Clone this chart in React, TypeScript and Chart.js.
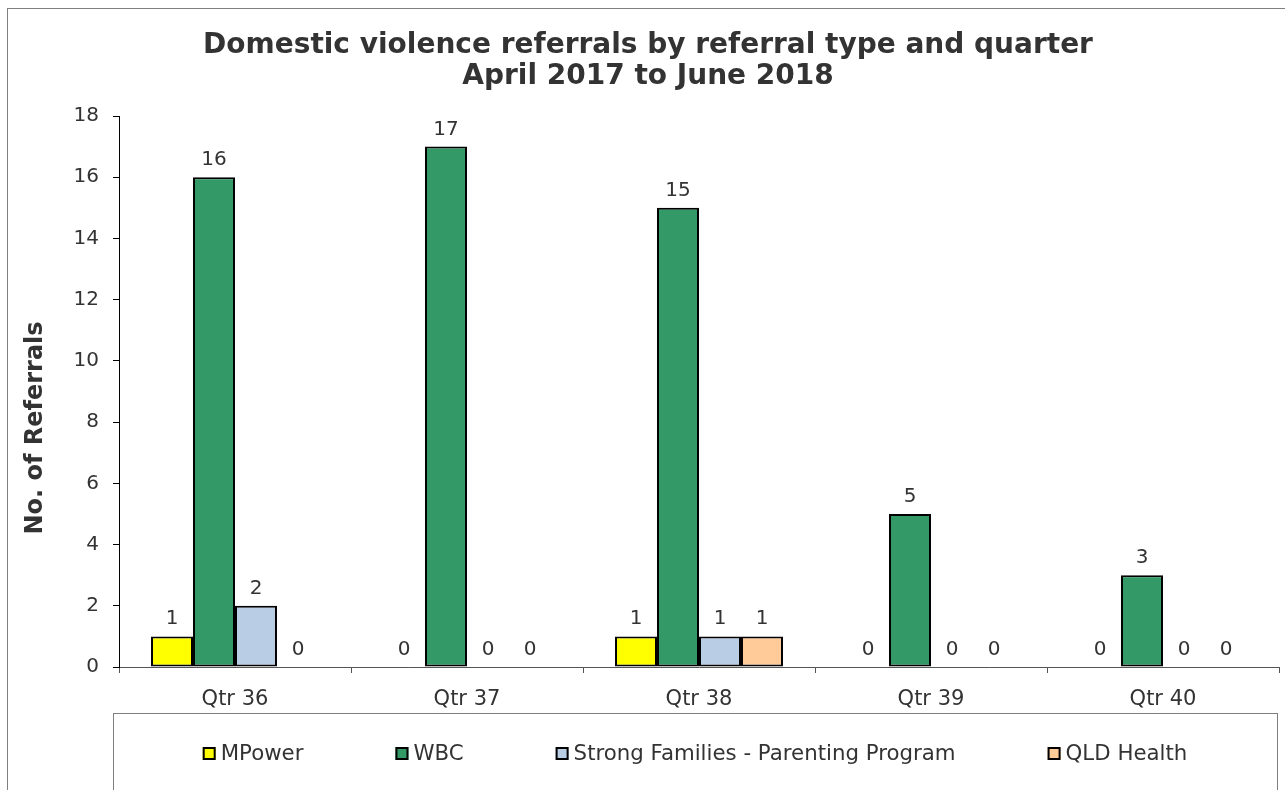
import React, { useEffect, useRef } from "react";
import { Chart, registerables } from "chart.js";

Chart.register(...registerables);

const categories = ["Qtr 36", "Qtr 37", "Qtr 38", "Qtr 39", "Qtr 40"];
const seriesNames = ["MPower", "WBC", "Strong Families - Parenting Program", "QLD Health"];
const mpower = [1, 0, 1, 0, 0];
const wbc = [16, 17, 15, 5, 3];
const strongFamilies = [2, 0, 1, 0, 0];
const qldHealth = [0, 0, 1, 0, 0];
const seriesColors = ["#FFFF00", "#339966", "#B9CDE5", "#FFCC99"];
const titleLines = ["Domestic violence referrals by referral type and quarter", "April 2017 to June 2018"];
const yAxisTitle = "No. of Referrals";
const yMin = 0;
const yMax = 18;
const yStep = 2;

const FONT = "'DejaVu Sans', Verdana, sans-serif";
const TEXT = "#333333";

const decorPlugin = {
  id: "decor",
  beforeDraw(chart: any) {
    const ctx = chart.ctx;
    ctx.save();
    ctx.fillStyle = "#ffffff";
    ctx.fillRect(0, 0, chart.width, chart.height);
    ctx.strokeStyle = "#7f7f7f";
    ctx.lineWidth = 1;
    ctx.strokeRect(7.5, 8.5, chart.width + 20, chart.height + 20);
    ctx.restore();
  },
  afterDraw(chart: any) {
    const ctx = chart.ctx;
    const area = chart.chartArea;
    ctx.save();
    ctx.fillStyle = TEXT;
    ctx.textAlign = "center";
    ctx.textBaseline = "alphabetic";
    ctx.font = `bold 28px ${FONT}`;
    ctx.fillText(titleLines[0], 648, 53);
    ctx.fillText(titleLines[1], 648, 84);

    ctx.save();
    ctx.translate(42, 428);
    ctx.rotate(-Math.PI / 2);
    ctx.font = `bold 24px ${FONT}`;
    ctx.textBaseline = "alphabetic";
    ctx.fillText(yAxisTitle, 0, 0);
    ctx.restore();

    ctx.font = `20px ${FONT}`;
    ctx.textAlign = "center";
    ctx.textBaseline = "alphabetic";
    chart.data.datasets.forEach((ds: any, i: number) => {
      const meta = chart.getDatasetMeta(i);
      meta.data.forEach((el: any, j: number) => {
        ctx.fillText(String(ds.data[j]), el.x, el.y - 12);
      });
    });

    const boxLeft = area.left - 6;
    const boxTop = 713;
    const boxRight = area.right - 2;
    ctx.strokeStyle = "#7f7f7f";
    ctx.lineWidth = 1;
    ctx.strokeRect(boxLeft + 0.5, boxTop + 0.5, boxRight - boxLeft, chart.height);

    ctx.font = `21.3px ${FONT}`;
    const marker = 13;
    const gapText = 5;
    const gapItem = 92;
    const widths = seriesNames.map((n) => marker + gapText + ctx.measureText(n).width);
    const total = widths.reduce((a, b) => a + b, 0) + gapItem * (seriesNames.length - 1);
    let x = (boxLeft + boxRight) / 2 - total / 2;
    const cy = 753;
    ctx.textAlign = "left";
    ctx.textBaseline = "middle";
    seriesNames.forEach((n, i) => {
      ctx.fillStyle = seriesColors[i];
      ctx.fillRect(x, cy - 6, marker, marker);
      ctx.strokeStyle = "#000";
      ctx.lineWidth = 2;
      ctx.strokeRect(x + 1, cy - 5, marker - 2, marker - 2);
      ctx.fillStyle = TEXT;
      ctx.fillText(n, x + marker + gapText, cy + 1);
      x += widths[i] + gapItem;
    });
    ctx.restore();
  },
};

export default function App() {
  const ref = useRef<HTMLCanvasElement | null>(null);
  useEffect(() => {
    if (!ref.current) return;
    const data = [mpower, wbc, strongFamilies, qldHealth];
    const chart = new Chart(ref.current, {
      type: "bar",
      data: {
        labels: categories,
        datasets: seriesNames.map((name, i) => ({
          label: name,
          data: data[i],
          backgroundColor: seriesColors[i],
          borderColor: "#000000",
          borderWidth: 2,
          borderSkipped: false,
          barPercentage: 1,
          categoryPercentage: 0.724,
        })),
      },
      options: {
        responsive: false,
        maintainAspectRatio: false,
        animation: false,
        layout: { padding: { top: 116, left: 0, right: 6, bottom: 0 } },
        plugins: {
          legend: { display: false },
          title: { display: false },
          tooltip: { enabled: false },
        },
        scales: {
          x: {
            afterFit: (s: any) => {
              s.height = 123;
            },
            grid: { drawOnChartArea: false, tickLength: 6, color: "#555555", offset: true },
            border: { color: "#555555", width: 1 },
            ticks: { color: TEXT, font: { family: FONT, size: 21 }, padding: 14 },
          },
          y: {
            min: yMin,
            max: yMax,
            afterFit: (s: any) => {
              s.width = 119;
            },
            grid: { drawOnChartArea: false, tickLength: 6, color: "#000000" },
            border: { color: "#000000", width: 1 },
            ticks: { stepSize: yStep, color: TEXT, font: { family: FONT, size: 20 }, padding: 14 },
          },
        },
      },
      plugins: [decorPlugin],
    });
    return () => chart.destroy();
  }, []);
  return (
    <div style={{ position: "fixed", left: 0, top: 0, width: 1285, height: 790, background: "#fff" }}>
      <canvas ref={ref} width={1285} height={790} style={{ display: "block" }} />
    </div>
  );
}
